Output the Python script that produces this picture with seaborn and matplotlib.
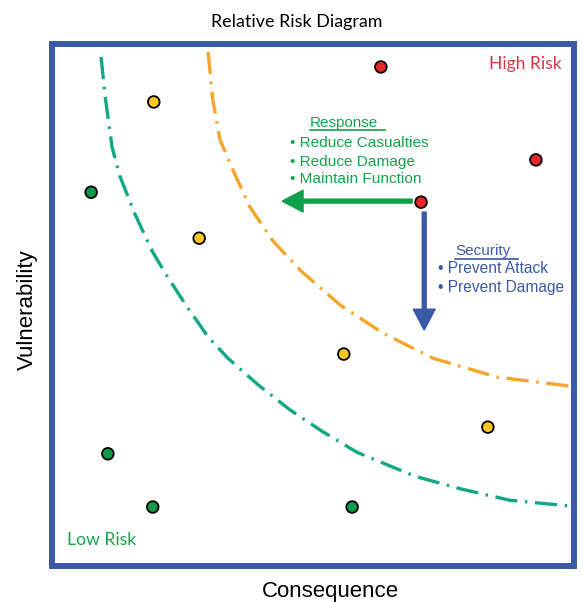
"""Relative risk diagram: vulnerability vs consequence with iso-risk curves."""

import matplotlib

matplotlib.use("Agg")
import matplotlib.pyplot as plt
import pandas as pd
import seaborn as sns

# scenario points (0-100 scale on both axes)
point_x = [63.0, 92.7, 70.7, 19.5, 28.2, 55.9, 83.5, 7.5, 10.7, 19.3, 57.5]
point_y = [95.6, 77.8, 69.7, 88.9, 62.8, 40.6, 26.6, 71.6, 21.5, 11.3, 11.3]
point_level = ["high"] * 3 + ["medium"] * 4 + ["low"] * 4

# iso-risk curves
upper_x = [29.9, 30.8, 32.2, 35.1, 37.9, 42.3, 47.5, 55.2, 63.4, 73.0, 85.2, 98.9]
upper_y = [98.5, 89.3, 81.6, 74.9, 68.8, 62.3, 56.7, 50.0, 44.6, 39.8, 36.2, 34.5]
lower_x = [9.4, 10.2, 11.5, 13.0, 15.9, 19.2, 22.0, 25.9, 29.9, 33.7, 39.5,
           45.6, 51.9, 58.4, 69.5, 78.2, 87.7, 99.2]
lower_y = [97.5, 89.8, 80.3, 74.7, 67.4, 60.3, 55.6, 49.6, 43.9, 39.8, 34.7,
           29.9, 25.7, 21.8, 17.2, 14.8, 12.6, 11.5]

response_items = ["Reduce Casualties", "Reduce Damage", "Maintain Function"]
security_items = ["Prevent Attack", "Prevent Damage"]

FRAME_BLUE = "#3B5AA6"
GREEN_TXT = "#12A24C"
BLUE_TXT = "#3B5AA6"
level_colors = {"high": "#E8262C", "medium": "#F8C621", "low": "#0E9A48"}

plt.rcParams["lines.scale_dashes"] = False

fig = plt.figure(figsize=(5.82, 6.02), dpi=100)
W, H = 582, 602
ax = fig.add_axes([52 / W, 1 - 566 / H, 522 / W, 522 / H])

curves = pd.concat(
    [
        pd.DataFrame({"x": upper_x, "y": upper_y, "curve": "upper"}),
        pd.DataFrame({"x": lower_x, "y": lower_y, "curve": "lower"}),
    ]
)
sns.lineplot(
    data=curves, x="x", y="y", hue="curve", sort=False, estimator=None,
    palette={"upper": "#F4A52B", "lower": "#12A885"}, linewidth=2.4,
    legend=False, ax=ax,
)
for line in ax.get_lines():
    line.set_dashes((16, 5.5, 1.8, 5.5))
    line.set_dash_capstyle("butt")

pts = pd.DataFrame({"x": point_x, "y": point_y, "level": point_level})
sns.scatterplot(
    data=pts, x="x", y="y", hue="level", palette=level_colors, s=70,
    edgecolor="black", linewidth=1.3, legend=False, zorder=5, ax=ax,
)

# response arrow (reduce consequence) and security arrow (reduce vulnerability)
ax.arrow(69.0, 69.9, -24.9, 0, width=0.75, head_width=4.2, head_length=4.0,
         length_includes_head=True, color="#0FA04A", zorder=4)
ax.arrow(71.3, 67.8, 0, -22.6, width=0.75, head_width=4.2, head_length=4.0,
         length_includes_head=True, color=FRAME_BLUE, zorder=4)

txt_font = ["Liberation Sans", "DejaVu Sans"]
ax.text(49.4, 84.9, "Response", color=GREEN_TXT, fontsize=11, va="center",
        family=txt_font)
ax.plot([49.4, 63.8], [83.5, 83.5], color=GREEN_TXT, linewidth=1.2)
for y, item in zip([81.0, 77.4, 74.1], response_items):
    ax.text(45.6, y, "\u2022 " + item, color=GREEN_TXT, fontsize=11.1,
            va="center", family=txt_font)

ax.text(77.2, 60.3, "Security", color=BLUE_TXT, fontsize=11, va="center",
        family=txt_font)
ax.plot([77.2, 89.3], [58.9, 58.9], color=BLUE_TXT, linewidth=1.2)
for y, item in zip([56.9, 53.3], security_items):
    ax.text(73.9, y, "\u2022 " + item, color=BLUE_TXT, fontsize=11.2,
            va="center", family=txt_font)

ax.text(83.7, 96.2, "High Risk", color="#D63448", fontsize=12.6, va="center",
        family=["Lato", "DejaVu Sans"])
ax.text(2.9, 5.0, "Low Risk", color="#16A44F", fontsize=12.6, va="center",
        family=["Lato", "DejaVu Sans"])

ax.set_xlim(0, 100)
ax.set_ylim(0, 100)
ax.set_xticks([])
ax.set_yticks([])
ax.set_xlabel("")
ax.set_ylabel("")
for spine in ax.spines.values():
    spine.set_color(FRAME_BLUE)
    spine.set_linewidth(4.3)

fig.text(297 / W, 1 - 22 / H, "Relative Risk Diagram", ha="center",
         va="center", fontsize=12.9, family=["Lato", "DejaVu Sans"])
fig.text(330 / W, 1 - 591 / H, "Consequence", ha="center", va="center",
         fontsize=16, family=["Liberation Sans", "DejaVu Sans"])
fig.text(27 / W, 1 - 310 / H, "Vulnerability", ha="center", va="center",
         rotation=90, fontsize=16, family=["Liberation Sans", "DejaVu Sans"])

fig.savefig("out.png", dpi=100, facecolor="white")
